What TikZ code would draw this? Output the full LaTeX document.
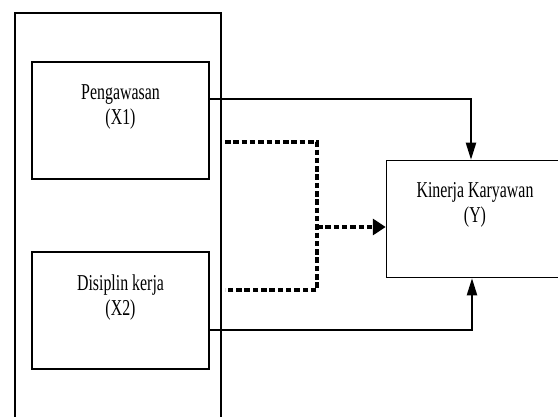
\documentclass[tikz,border=0pt]{standalone}
\usepackage{fontspec}
\setmainfont{Liberation Serif}[FakeStretch=0.70]
\usetikzlibrary{arrows.meta,positioning}
\tikzset{
  varbox/.style={draw, line width=1.5pt, minimum width=177pt, minimum height=117pt, inner sep=0pt},
  vartext/.style={align=center, font=\fontsize{22.7}{25}\selectfont},
  solidarrow/.style={line width=2pt, -{Triangle[length=17pt,width=10pt]}},
  dotline/.style={line width=4.5pt, dash pattern=on 5.5pt off 2.8pt},
}

\begin{document}
\begin{tikzpicture}[x=1pt,y=1pt]
\clip (0,0) rectangle (558,416);
% Draw the outer frame
  \draw[line width=1.5pt] (15,-10) rectangle (221,403);

  % Draw the variable boxes
  \node[varbox] (x1) at (120.5,295.5) {};
  \node[varbox] (x2) at (120.5,105.5) {};
  \node[varbox] (y) at (475,197) {};

  \node[vartext, below=19.5pt of x1.north] (tx1) {Pengawasan\\(X1)};
  \node[vartext, below=19.5pt of x2.north] (tx2) {Disiplin kerja\\(X2)};
  \node[vartext, below=19.5pt of y.north] (ty) {Kinerja Karyawan\\(Y)};

  % Partial effects
  \draw[solidarrow] ([yshift=-38pt]x1.north east) -| ([xshift=-4pt]y.north);
  \draw[solidarrow] ([yshift=-19.5pt]x2.east) -| ([xshift=-3pt]y.south);

  % Joint effect, dotted
  \coordinate (dt) at (225,274);
  \coordinate (dm) at (317,189);
  \coordinate (db) at (225,126);
  \draw[dotline] (dt) -| (dm) |- (db);
  \draw[dotline, -{Triangle[length=13pt,width=16pt]}] (dm) -- ([yshift=-8pt]y.west);
\end{tikzpicture}
\end{document}
